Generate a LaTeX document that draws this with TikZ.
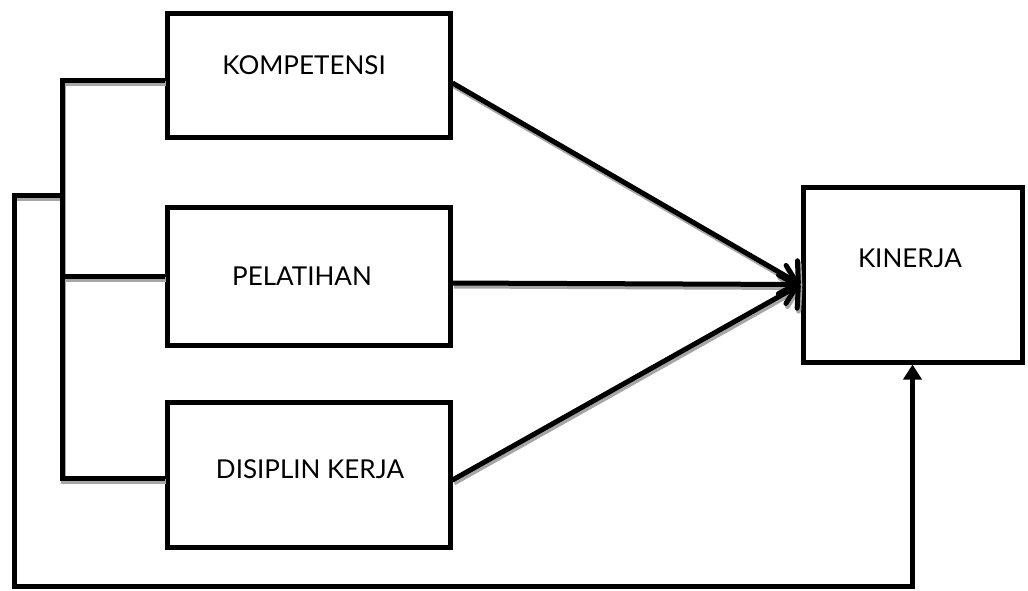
\documentclass[tikz,border=0pt]{standalone}
\usepackage{fontspec}
\setmainfont{Lato}
\usepackage{tikz}
\usetikzlibrary{arrows.meta}
\tikzstyle{varbox} = [draw=black, fill=white, line width=5pt,
    rectangle, inner sep=0pt]
\tikzstyle{vartext} = [font=\fontsize{26}{30}\selectfont, inner sep=0pt]
\tikzstyle{plainline} = [line width=5pt]
\tikzstyle{shadeline} = [line width=5pt, draw=black!35]
\tikzstyle{barb} = [-{Straight Barb[length=12pt,width=38pt,round]}]

\begin{document}
\begin{tikzpicture}[x=1pt, y=-1pt]
                \useasboundingbox (0,0) rectangle (1028,590);
                \node [varbox, minimum width=283pt, minimum height=124pt] (box1) at (308.5,75) {};
                \node [varbox, minimum width=283pt, minimum height=138pt] (box2) at (308.5,276) {};
                \node [varbox, minimum width=283pt, minimum height=145pt] (box3) at (308.5,474.5) {};
                \node [varbox, minimum width=219pt, minimum height=175pt] (box4) at (912.5,274.5) {};
                \node [vartext] (text1) at (304,65) {KOMPETENSI};
                \node [vartext] (text2) at (302,276) {PELATIHAN};
                \node [vartext] (text3) at (310,469) {DISIPLIN KERJA};
                \node [vartext] (text4) at (910,258) {KINERJA};
                \coordinate (top) at (62,80);
                \coordinate (bot) at (62,478);
                \coordinate (stub) at (12,195);
                \coordinate (tip) at ([yshift=-10pt]box4.west);
                \begin{scope}[transform canvas={shift={(1.5pt,-3pt)}}]
                \draw [shadeline] ([yshift=-5pt]box1.west) -- (top) -- (bot) -- ([yshift=-3.5pt]box3.west);
                \draw [shadeline] (box2.west) -- (box2.west -| top);
                \draw [shadeline] (stub -| top) -- (stub);
                \draw [shadeline, barb] ([yshift=-8pt]box1.east) -- (tip);
                \draw [shadeline, barb] ([yshift=-7pt]box2.east) -- (tip);
                \draw [shadeline, barb] ([yshift=-5.5pt]box3.east) -- (tip);
                \end{scope}
                \draw [plainline] ([yshift=-5pt]box1.west) -- (top) -- (bot) -- ([yshift=-3.5pt]box3.west);
                \draw [plainline] (box2.west) -- (box2.west -| top);
                \draw [plainline] (stub -| top) -- (stub);
                \draw [plainline, -{Triangle[length=15pt,width=18pt]}] (14,195) -- (14,586) -| (box4.south);
                \draw [plainline, barb] ([yshift=-8pt]box1.east) -- (tip);
                \draw [plainline, barb] ([yshift=-7pt]box2.east) -- (tip);
                \draw [plainline, barb] ([yshift=-5.5pt]box3.east) -- (tip);
            \end{tikzpicture}
\end{document}
